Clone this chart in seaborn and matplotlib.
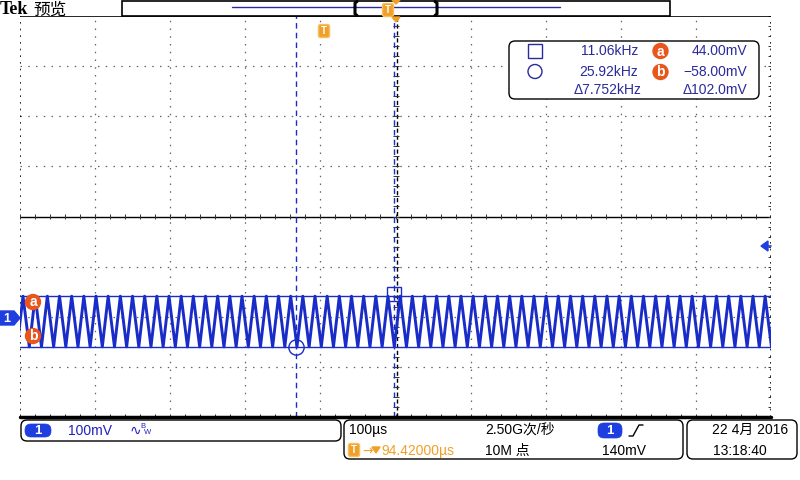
import numpy as np
import pandas as pd
import matplotlib
matplotlib.use("Agg")
import matplotlib.pyplot as plt
import seaborn as sns
from matplotlib.patches import FancyBboxPatch, Rectangle, Circle, Polygon

# ---- data (time in us, voltage in mV) ----
peak_us = [-496.0, -479.8, -463.6, -447.4, -431.2, -415.0, -398.8, -382.6, -366.4, -350.2,
           -334.0, -317.8, -301.6, -285.4, -269.2, -253.0, -236.8, -220.6, -204.4, -188.2,
           -172.0, -155.8, -139.6, -123.4, -107.2, -91.0, -74.8, -58.6, -42.4, -26.2,
           -10.0, 6.2, 22.4, 38.6, 54.8, 71.0, 87.2, 103.4, 119.6, 135.8,
           152.0, 168.2, 184.4, 200.6, 216.8, 233.0, 249.2, 265.4, 281.6, 297.8,
           314.0, 330.2, 346.4, 362.6, 378.8, 395.0, 411.2, 427.4, 443.6, 459.8,
           476.0, 492.2]
trough_us = [-503.8, -487.6, -471.4, -455.2, -439.0, -422.8, -406.6, -390.4, -374.2, -358.0,
             -341.8, -325.6, -309.4, -293.2, -277.0, -260.8, -244.6, -228.4, -212.2, -196.0,
             -179.8, -163.6, -147.4, -131.2, -115.0, -98.8, -82.6, -66.4, -50.2, -34.0,
             -17.8, -1.6, 14.6, 30.8, 47.0, 63.2, 79.4, 95.6, 111.8, 128.0,
             144.2, 160.4, 176.6, 192.8, 209.0, 225.2, 241.4, 257.6, 273.8, 290.0,
             306.2, 322.4, 338.6, 354.8, 371.0, 387.2, 403.4, 419.6, 435.8, 452.0,
             468.2, 484.4, 500.6]
peak_mv = 44.0
trough_mv = -57.0

cursor_a_mv = 44.0
cursor_b_mv = -58.0
cursor_circle_us = -132.5
cursor_square_us = -2.0

readout_freq = ["11.06kHz", "25.92kHz", "\u03947.752kHz"]
readout_volt = ["44.00mV", "\u221258.00mV", "\u0394102.0mV"]

# screen: 10 x 100us horizontally, 8 x 100mV vertically, ground 2.03 div below centre
x_lo, x_hi = -500, 500
center_mv = 203
y_lo, y_hi = center_mv - 400, center_mv + 400

t, v = [], []
for i in range(len(peak_us)):
    t += [trough_us[i], peak_us[i]]
    v += [trough_mv, peak_mv]
t.append(trough_us[-1])
v.append(trough_mv)
wave = pd.DataFrame({"t": t, "v": v})

sns.set_theme(style="white")
plt.rcParams["font.family"] = ["Liberation Sans", "Noto Sans CJK SC", "DejaVu Sans"]

BLUE = "#1a2cc8"
NAVY = "#2a2a9c"
ORANGE = "#e8561c"
GOLD = "#f0a028"

fig = plt.figure(figsize=(8, 4.8), dpi=100)
fig.patch.set_facecolor("white")
ax = fig.add_axes([20 / 800, 1 - 417 / 480, 751 / 800, 401 / 480])
ax.set_xlim(x_lo, x_hi)
ax.set_ylim(y_lo, y_hi)
ax.set_xticks([])
ax.set_yticks([])
for s in ax.spines.values():
    s.set_visible(False)

px_t = (x_hi - x_lo) / 751
px_v = (y_hi - y_lo) / 401

# graticule
dot = (0, (1.2, 5))
for k in range(-4, 5):
    if k != 0:
        ax.axvline(k * 100, color="#666666", lw=0.9, ls=dot, zorder=1)
for k in range(-3, 4):
    if k != 0:
        ax.axhline(center_mv + k * 100, color="#666666", lw=0.9, ls=dot, zorder=1)
ax.axvline(x_lo, color="black", lw=1.2, ls=(0, (1, 3)), zorder=1)
ax.axvline(x_hi, color="black", lw=1.2, ls=(0, (1, 3)), zorder=1)
ax.axhline(y_hi, color="black", lw=1.2, zorder=3)
ax.axhline(center_mv, color="black", lw=1.0, zorder=2)
ax.axvline(1 * px_t, color="black", lw=1.0, ls=(0, (3, 2)), zorder=2)
minor_t = np.arange(x_lo, x_hi + 1, 20)
minor_v = np.arange(y_lo, y_hi + 1, 20)
ax.vlines(minor_t, center_mv - 2.5 * px_v, center_mv + 2.5 * px_v, color="#333333", lw=0.7, zorder=2)
ax.hlines(minor_v, -2.5 * px_t, 3.5 * px_t, color="#333333", lw=0.7, zorder=2)
ax.vlines(minor_t, y_lo, y_lo + 3 * px_v, color="#333333", lw=0.7, zorder=2)
ax.hlines(minor_v, x_hi - 3 * px_t, x_hi, color="#333333", lw=0.7, zorder=2)

# cursors
ax.axhline(cursor_a_mv, color=BLUE, lw=1.0, zorder=3)
ax.axhline(cursor_b_mv, color=BLUE, lw=1.0, zorder=3)
ax.axvline(cursor_circle_us, color=BLUE, lw=1.0, ls=(0, (4, 3)), zorder=3)
ax.axvline(cursor_square_us, color=BLUE, lw=1.0, ls=(0, (4, 3)), zorder=3)

sns.lineplot(data=wave, x="t", y="v", sort=False, estimator=None, color=BLUE,
             lw=2.1, ax=ax, zorder=4)
ax.set_xlabel("")
ax.set_ylabel("")
ax.plot([cursor_square_us], [cursor_a_mv + 2 * px_v], marker="s", ms=10, mfc="none",
        mec=BLUE, mew=1.0, zorder=5)
ax.plot([cursor_circle_us], [cursor_b_mv], marker="o", ms=11, mfc="none",
        mec=BLUE, mew=1.0, zorder=5)

# overlay in pixel coordinates for the scope's chrome
ov = fig.add_axes([0, 0, 1, 1], zorder=10)
ov.set_xlim(0, 800)
ov.set_ylim(480, 0)
ov.axis("off")


def badge(x, y, letter, r=7.5):
    ov.add_patch(Circle((x, y), r, color=ORANGE, zorder=11))
    ov.text(x, y + 0.5, letter, color="white", fontsize=10, fontweight="bold",
            ha="center", va="center", zorder=12)


def t_icon(x, y):
    ov.add_patch(FancyBboxPatch((x - 5, y - 6), 10, 12, boxstyle="round,pad=0.5,rounding_size=2",
                                fc=GOLD, ec="#f6c060", lw=1.0, zorder=11))
    ov.text(x, y, "T", color="white", fontsize=7, fontweight="bold", ha="center",
            va="center", zorder=12)


def rbox(x0, y0, x1, y1):
    ov.add_patch(FancyBboxPatch((x0, y0), x1 - x0, y1 - y0,
                                boxstyle="round,pad=0,rounding_size=6",
                                fc="white", ec="black", lw=1.0, zorder=10))


def pill(x0, x1, y0, y1, txt):
    ov.add_patch(FancyBboxPatch((x0, y0), x1 - x0, y1 - y0,
                                boxstyle="round,pad=0,rounding_size=6",
                                fc="#1f3ee0", ec="#1f3ee0", lw=0.5, zorder=11))
    ov.text((x0 + x1) / 2, (y0 + y1) / 2 + 0.5, txt, color="white", fontsize=9.5,
            fontweight="bold", ha="center", va="center", zorder=12)


# header
ov.text(0, 10, "Tek", fontsize=13, fontweight="bold", ha="left", va="center", color="black",
        family=["Liberation Serif"])
ov.text(33, 10, "预览", fontsize=12, ha="left", va="center", color="black")
ov.add_patch(Rectangle((122, 0.5), 548, 15.5, fc="white", ec="black", lw=1.2, zorder=10))
ov.plot([232, 560], [7, 7], color="#2a2a9c", lw=1.0, zorder=11)
ov.plot([357, 355, 355, 357], [1.5, 3, 14, 15.5], color="black", lw=2.2, zorder=11)
ov.plot([435, 437, 437, 435], [1.5, 3, 14, 15.5], color="black", lw=2.2, zorder=11)
t_icon(388, 10)
ov.add_patch(Polygon([[392, 0], [400, 0], [396, 4]], color=GOLD, zorder=12))
ov.add_patch(Polygon([[392, 17], [400, 17], [396, 22]], color=GOLD, zorder=12))
t_icon(324, 31)

# readout box
rbox(509, 41, 759, 99)
ov.add_patch(Rectangle((528, 44), 14, 14, fc="none", ec=NAVY, lw=1.0, zorder=11))
ov.add_patch(Circle((535, 71.5), 7, fc="none", ec=NAVY, lw=1.0, zorder=11))
rows_y = [51, 71.5, 90]
for y, f, vv in zip(rows_y, readout_freq, readout_volt):
    ov.text(642 if y == 90 else 638, y, f, fontsize=10, color=NAVY, ha="right", va="center", zorder=12)
    ov.text(747, y, vv, fontsize=10, color=NAVY, ha="right", va="center", zorder=12)
badge(660.5, 51, "a")
badge(660.5, 72, "b")

# channel / cursor markers on the left, trigger level on the right
ov.add_patch(Polygon([[0, 311], [14, 311], [20, 318], [14, 325], [0, 325]], color="#1f3ee0", zorder=11))
ov.text(7, 318.5, "1", color="white", fontsize=9, fontweight="bold", ha="center", va="center", zorder=12)
badge(33, 302, "a")
badge(33, 336, "b")
ov.add_patch(Polygon([[761, 246], [768, 241], [768, 251]], color="#1f3ee0", zorder=12))
ov.plot([766, 771], [246, 246], color="#1f3ee0", lw=1.2, zorder=12)

# bottom status line
ov.plot([20, 771], [417, 417], color="black", lw=2.5, zorder=11)
rbox(21, 420, 341, 441)
pill(25, 51, 424, 437, "1")
ov.text(68, 431, "100mV", fontsize=10, color="#2020c0", ha="left", va="center", zorder=12)
ov.text(130, 431, "\u223f", fontsize=10, color="#2020c0", ha="left", va="center",
        family=["DejaVu Sans"], zorder=12)
ov.text(140, 427, "B", fontsize=5.5, color="#2020c0", ha="left", va="center", zorder=12)
ov.text(144, 433, "W", fontsize=5.5, color="#2020c0", ha="left", va="center", zorder=12)

rbox(344, 420, 683, 459)
ov.text(349, 430, "100\u00b5s", fontsize=10, color="black", ha="left", va="center", zorder=12)
t_icon(354, 450)
ov.text(362, 451, "\u2192", fontsize=9, color=GOLD, ha="left", va="center",
        family=["DejaVu Sans"], zorder=12)
ov.add_patch(Polygon([[372, 447], [380, 447], [376, 453]], color=GOLD, zorder=12))
ov.text(381, 451, "94.42000\u00b5s", fontsize=10, color=GOLD, ha="left", va="center", zorder=12)
ov.text(485, 430, "2.50G次/秒", fontsize=10, color="black", ha="left", va="center", zorder=12)
ov.text(485, 451, "10M 点", fontsize=10, color="black", ha="left", va="center", zorder=12)
pill(598, 622, 423, 438, "1")
ov.plot([629, 633, 639, 643], [436, 436, 425, 425], color="black", lw=1.0, zorder=12)
ov.text(602, 451, "140mV", fontsize=10, color="black", ha="left", va="center", zorder=12)

rbox(687, 420, 797, 459)
ov.text(712, 430, "22 4月 2016", fontsize=10, color="black", ha="left", va="center", zorder=12)
ov.text(713, 451, "13:18:40", fontsize=10, color="black", ha="left", va="center", zorder=12)

fig.savefig("out.png", dpi=100, facecolor="white")
